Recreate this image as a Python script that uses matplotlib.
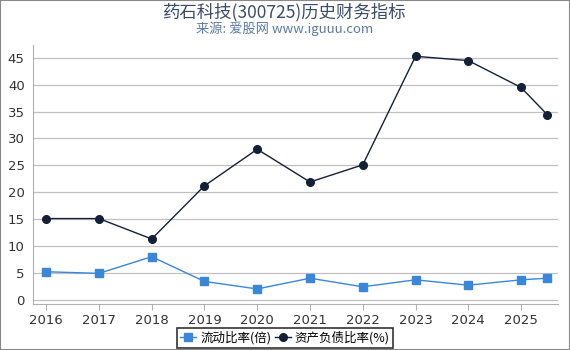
import matplotlib
matplotlib.use("Agg")
import matplotlib.pyplot as plt
from matplotlib.patches import Rectangle

plt.rcParams['font.family'] = ['Noto Sans CJK SC', 'DejaVu Sans']

x_pos = [2016, 2017, 2018, 2019, 2020, 2021, 2022, 2023, 2024, 2025, 2025.5]
year_ticks = [2016, 2017, 2018, 2019, 2020, 2021, 2022, 2023, 2024, 2025]
current_ratio = [5.2, 4.9, 8.0, 3.4, 2.0, 4.0, 2.4, 3.7, 2.7, 3.7, 4.0]
debt_ratio = [15.1, 15.1, 11.3, 21.2, 28.0, 21.9, 25.1, 45.3, 44.5, 39.5, 34.4]
y_ticks = [0, 5, 10, 15, 20, 25, 30, 35, 40, 45]

fig = plt.figure(figsize=(5.7, 3.5), dpi=100)
ax = fig.add_axes([33/570, 1-304/350, (558-33)/570, (304-45)/350])

ax.plot(x_pos, current_ratio, color='#3a86d9', marker='s', markersize=5.5,
        linewidth=1, label='流动比率(倍)')
ax.plot(x_pos, debt_ratio, color='#142038', marker='o', markersize=5.5,
        linewidth=1, label='资产负债比率(%)')

ax.set_xlim(2015.75, 2025.7)
ax.set_ylim(-0.8, 47.4)
ax.set_xticks(year_ticks)
ax.set_xticklabels([str(y) for y in year_ticks], family='DejaVu Sans')
ax.set_yticks(y_ticks)
ax.set_yticklabels([str(v) for v in y_ticks], family='DejaVu Sans')
ax.grid(axis='y', color='#c0c0c0', linewidth=0.9)
ax.set_axisbelow(True)
for s in ['top', 'right']:
    ax.spines[s].set_visible(False)
for s in ['left', 'bottom']:
    ax.spines[s].set_color('#b0b0b0')
ax.tick_params(axis='x', colors='#b0b0b0', labelcolor='#333333', labelsize=9.5, length=4)
ax.tick_params(axis='y', length=0, labelcolor='#333333', labelsize=9.5, pad=6)

fig.text(0.5, 1-12/350, '药石科技(300725)历史财务指标', ha='center', va='center',
         fontsize=12.5, color='#3b4b6a')
fig.text(0.5, 1-29/350, '来源: 爱股网 www.iguuu.com', ha='center', va='center',
         fontsize=9.5, color='#5b7aa3')

leg = fig.legend(loc='center', bbox_to_anchor=(0.5, 1-338/350), ncol=2,
                 frameon=True, fancybox=False, edgecolor='black', fontsize=9,
                 handlelength=1.3, handletextpad=0.3, columnspacing=0.3,
                 borderpad=0.25, borderaxespad=0)
leg.get_frame().set_linewidth(1.2)

fig.patches.append(Rectangle((0, 0), 1, 1, transform=fig.transFigure,
                             fill=False, edgecolor='#888888', linewidth=1.5))

fig.savefig('out.png', dpi=100)
